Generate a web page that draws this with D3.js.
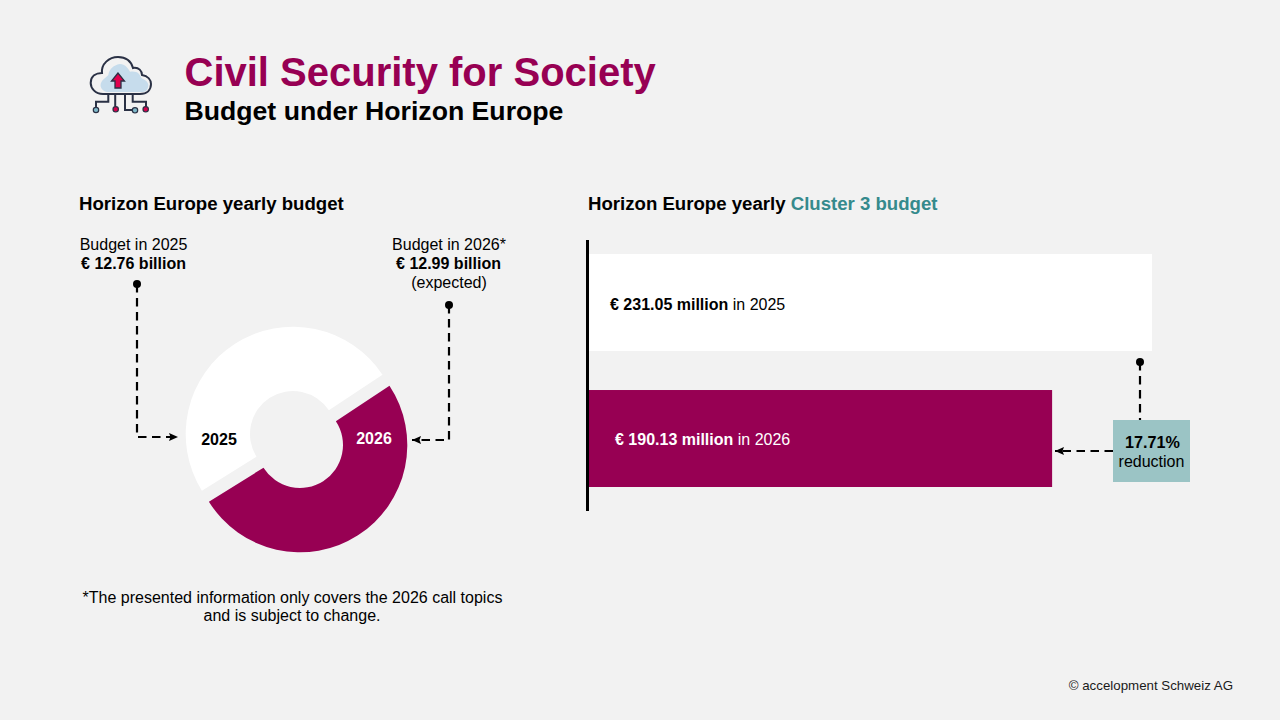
<!DOCTYPE html>
<html>
<head>
<meta charset="utf-8">
<script src="https://cdn.jsdelivr.net/npm/d3@7"></script>
<style>
  html, body { margin: 0; padding: 0; background: #f2f2f2; }
  svg { display: block; font-family: "Liberation Sans", Arial, sans-serif; }
</style>
</head>
<body>
<div id="chart"></div>
<script>
// budget per year, billion euro (donut) and million euro (cluster 3 bars)
const years = ["2025", "2026"];
const yearlyBudget = [12.76, 12.99];
const yearlyBudgetLabels = ["€ 12.76 billion", "€ 12.99 billion"];
const clusterBudget = [231.05, 190.13];
const clusterBudgetLabels = ["€ 231.05 million", "€ 190.13 million"];
const reductionLabel = "17.71%";

const magenta = "#970053";
const teal = "#358a8c";

const svg = d3.select("#chart").append("svg")
  .attr("width", 1280)
  .attr("height", 720);

svg.append("rect").attr("width", 1280).attr("height", 720).attr("fill", "#f2f2f2");

const defs = svg.append("defs");
defs.append("marker")
  .attr("id", "arrow")
  .attr("viewBox", "0 0 9 8")
  .attr("refX", 9).attr("refY", 4)
  .attr("markerWidth", 9).attr("markerHeight", 8)
  .attr("markerUnits", "userSpaceOnUse")
  .attr("orient", "auto")
  .append("path").attr("d", "M0,0L9,4L0,8L1.5,4Z").attr("fill", "#000");

function addText(x, y, parts, size, anchor) {
  const t = svg.append("text")
    .attr("x", x).attr("y", y)
    .attr("font-size", size)
    .attr("text-anchor", anchor || "start");
  parts.forEach(p => {
    t.append("tspan")
      .text(p.text)
      .attr("font-weight", p.bold ? "bold" : "normal")
      .attr("fill", p.color || "#000");
  });
  return t;
}

// header
addText(184.5, 86, [{ text: "Civil Security for Society", bold: true, color: magenta }], 40);
addText(184.5, 120, [{ text: "Budget under Horizon Europe", bold: true }], 26.65);

// cloud icon
const icon = svg.append("g").attr("fill", "none").attr("stroke-linecap", "round");
icon.append("path")
  .attr("d", "M100.7,84C102,79 107,77 108.3,75C109,70 113,65 120,64C125,64 128,68 130,71.7C134,71 137,72 138.3,73.3C140,75 141,77 141.7,78.3C145,80 148.3,82 148.3,85C148.3,89 146,92 143,92L107,92C102,91 100,87 100.7,84Z")
  .attr("fill", "#c6dcec");
icon.append("path")
  .attr("d", "M103,94C95,94 90.7,88 90.7,83C90.7,76 96,73 102,73C101,64 109,57 118,57C126,57 131,61 133,68C139,67 142,71 142,75C148,76 151,80 151,84C151,90 147,94 140,94Z")
  .attr("stroke", "#2a3145").attr("stroke-width", 2);
icon.append("path")
  .attr("d", "M118,73L111.5,81H115V88H121V81H124.5Z")
  .attr("fill", "#e0004d").attr("stroke", "#2a3145").attr("stroke-width", 1.3);
icon.append("path")
  .attr("d", "M108.3,94V101.7H96V106.5M115.2,94V106M125,94V110H131.7M132.7,94V101.7H146V106")
  .attr("stroke", "#2a3145").attr("stroke-width", 2);
[[96, 110, "#7fb9c9"], [115.7, 109.3, "#d5004d"], [135, 110.3, "#7fb9c9"], [145.7, 109.3, "#d5004d"]].forEach(c => {
  icon.append("circle")
    .attr("cx", c[0]).attr("cy", c[1]).attr("r", 2.7)
    .attr("fill", c[2]).attr("stroke", "#2a3145").attr("stroke-width", 1.2);
});

// left panel
addText(79, 210, [{ text: "Horizon Europe yearly budget", bold: true }], 18.62);

addText(133.5, 250, [{ text: "Budget in 2025" }], 16, "middle");
addText(133.5, 269, [{ text: yearlyBudgetLabels[0], bold: true }], 16, "middle");
addText(449, 250, [{ text: "Budget in 2026*" }], 16, "middle");
addText(448.5, 269, [{ text: yearlyBudgetLabels[1], bold: true }], 16, "middle");
addText(449, 288, [{ text: "(expected)" }], 16, "middle");

// donut, the slices are pulled apart a little
const pie = d3.pie().sort(null)
  .startAngle(56.5 * Math.PI / 180)
  .endAngle((56.5 + 360) * Math.PI / 180);
const arc = d3.arc().innerRadius(43).outerRadius(107.3);
const pieData = pie([yearlyBudget[1], yearlyBudget[0]]);

svg.append("path")
  .attr("d", arc(pieData[1]))
  .attr("transform", "translate(293,434)")
  .attr("fill", "#fff");
svg.append("path")
  .attr("d", arc(pieData[0]))
  .attr("transform", "translate(300,445)")
  .attr("fill", magenta);

addText(219, 445, [{ text: years[0], bold: true }], 16, "middle");
addText(374, 444, [{ text: years[1], bold: true, color: "#fff" }], 16, "middle");

function leader(d, dotX, dotY, arrow) {
  const p = svg.append("path")
    .attr("d", d)
    .attr("fill", "none")
    .attr("stroke", "#000")
    .attr("stroke-width", 2.2)
    .attr("stroke-dasharray", "8.5 5.5");
  if (arrow) p.attr("marker-end", "url(#arrow)");
  if (dotX !== null) svg.append("circle").attr("cx", dotX).attr("cy", dotY).attr("r", 4).attr("fill", "#000");
}

leader("M137,284V437H178", 137, 284, true);
leader("M449,305V440H412", 449, 305, true);

addText(292.5, 603, [{ text: "*The presented information only covers the 2026 call topics" }], 16, "middle");
addText(292, 621, [{ text: "and is subject to change." }], 16, "middle");

// right panel
addText(588, 210, [
  { text: "Horizon Europe yearly ", bold: true },
  { text: "Cluster 3 budget", bold: true, color: teal }
], 18.62);

const x = d3.scaleLinear().domain([0, clusterBudget[0]]).range([588, 1152]);
const y = d3.scaleBand().domain(years).range([254, 487]).paddingInner(0.287);

svg.selectAll("rect.bar")
  .data(clusterBudget)
  .enter().append("rect")
  .attr("class", "bar")
  .attr("x", x(0))
  .attr("y", (d, i) => y(years[i]))
  .attr("width", d => x(d) - x(0))
  .attr("height", y.bandwidth())
  .attr("fill", (d, i) => i === 0 ? "#fff" : magenta);

svg.append("line")
  .attr("x1", 587.5).attr("x2", 587.5)
  .attr("y1", 240).attr("y2", 511)
  .attr("stroke", "#000").attr("stroke-width", 3);

addText(610, 310, [
  { text: clusterBudgetLabels[0], bold: true },
  { text: " in " + years[0] }
], 16);
addText(615, 445, [
  { text: clusterBudgetLabels[1], bold: true, color: "#fff" },
  { text: " in " + years[1], color: "#fff" }
], 16);

// reduction callout
leader("M1140,362V420", 1140, 362, false);
leader("M1113,451H1055", null, null, true);
svg.append("rect")
  .attr("x", 1113).attr("y", 420)
  .attr("width", 77).attr("height", 62)
  .attr("fill", "#9bc4c5");
addText(1152.5, 448, [{ text: reductionLabel, bold: true }], 16.2, "middle");
addText(1151.5, 467, [{ text: "reduction" }], 16, "middle");

addText(1233, 690, [{ text: "© accelopment Schweiz AG", color: "#1a1a1a" }], 13.3, "end");
</script>
</body>
</html>
